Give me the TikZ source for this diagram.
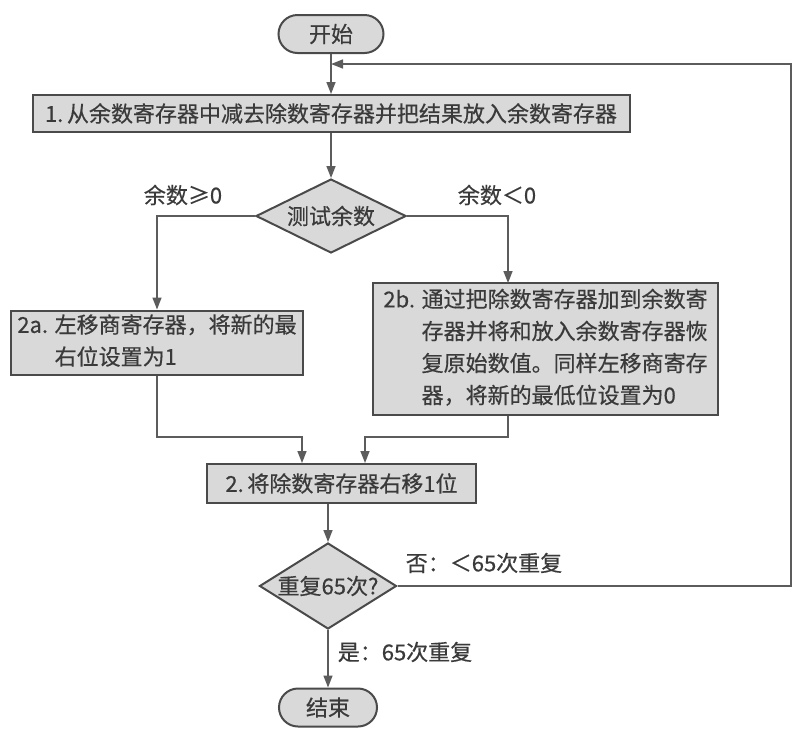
\documentclass[tikz,border=0pt]{standalone}
\usepackage{fontspec}
\usepackage{tikz}
\usepackage{xcolor}
\usetikzlibrary{shapes.geometric, shapes.misc, arrows.meta, calc}
\newfontfamily\cjk[FakeBold=0.5]{Noto Sans CJK SC}
\definecolor{Box_Fill}{HTML}{D9D9D9}
\definecolor{Box_Edge}{HTML}{4A4A4A}
\definecolor{Flow_Line}{HTML}{5C5C5C}
\definecolor{Ink}{HTML}{3A3A3A}

\begin{document}
\begin{tikzpicture}[x=0.5pt, y=-0.5pt,
  every node/.style={font=\cjk\fontsize{11}{16}\selectfont, text=Ink},
  terminal/.style={rounded rectangle, draw=Box_Edge, fill=Box_Fill, line width=1pt, minimum height=19pt, inner sep=0pt},
  stepbox/.style={rectangle, draw=Box_Edge, fill=Box_Fill, line width=1pt, inner sep=0pt},
  decision/.style={diamond, draw=Box_Edge, fill=Box_Fill, line width=1pt, inner sep=0pt},
  flow/.style={draw=Flow_Line, line width=0.8pt, -{Triangle[length=6pt, width=4.5pt]}},
  link/.style={draw=Flow_Line, line width=0.8pt}]
\useasboundingbox (0,0) rectangle (803,740);
% --- Start and first step ---
\node[terminal, minimum width=52.5pt] (start) at (331,34) {开始};
\node[stepbox, minimum width=298.5pt, minimum height=18.5pt] (sub1) at (331,113.5) {1.\,从余数寄存器中减去除数寄存器并把结果放入余数寄存器};
% --- Test of the remainder ---
\node[decision, aspect=2, minimum width=75pt, minimum height=37pt] (test) at (331,216) {测试余数};
\node (lblge) at (183,195) {余数≥0};
\node (lbllt) at (497,195) {余数＜0};
% --- The two branches ---
\node[stepbox, minimum width=146pt, minimum height=31.5pt] (sub2a) at (157,342.5) {%
  \begin{tabular}{@{}l@{ }l@{}}2a. & 左移商寄存器，将新的最\\ & 右位设置为1\end{tabular}};
\node[stepbox, minimum width=172.5pt, minimum height=66pt] (sub2b) at (545.5,349) {%
  \begin{tabular}{@{}l@{ }l@{}}2b. & 通过把除数寄存器加到余数寄\\ & 存器并将和放入余数寄存器恢\\ & 复原始数值。同样左移商寄存\\ & 器，将新的最低位设置为0\end{tabular}};
% --- Shift and repeat test ---
\node[stepbox, minimum width=134.5pt, minimum height=19.5pt] (shift) at (341.5,483.5) {2.\,将除数寄存器右移1位};
\node[decision, aspect=1.6, minimum width=68.5pt, minimum height=43pt] (rep) at (328,586) {重复65次?};
\node (lblno) at (484,563) {否：＜65次重复};
\node (lblyes) at (405,652) {是：65次重复};
\node[terminal, minimum width=49pt] (finish) at (328,707.5) {结束};
% Bend points
\coordinate (inb) at (508,283);
\coordinate (ja) at (302,437);
\coordinate (jb) at (365,437);
\coordinate (loopx) at (791,64);
\coordinate (loopin) at (331,64);
% --- Connectors ---
\draw[flow] (start) -- (sub1);
\draw[flow] (sub1) -- (test);
\draw[flow] (test.west) -| (sub2a.north);
\draw[flow] (test.east) -| (inb);
\draw[flow] (sub2a.south) |- (ja) -- (ja |- shift.north);
\draw[flow] (inb |- sub2b.south) |- (jb) -- (jb |- shift.north);
\draw[flow] (rep.north |- shift.south) -- (rep.north);
\draw[flow] (rep.south) -- (finish.north);
\draw[flow] (rep.east) -| (loopx) -- (loopin);
\end{tikzpicture}
\end{document}
